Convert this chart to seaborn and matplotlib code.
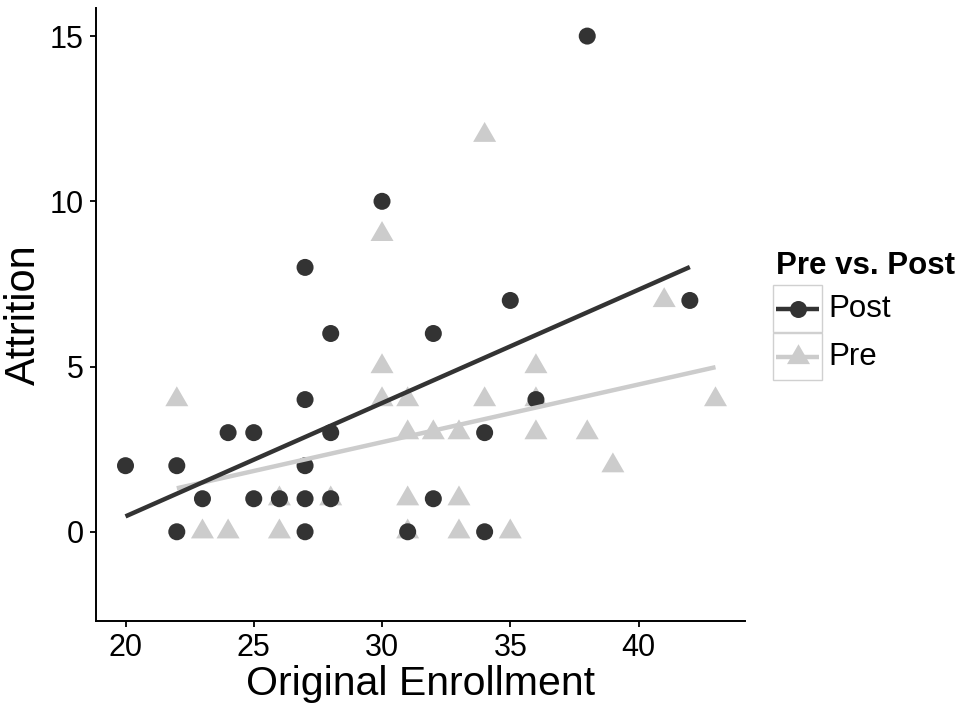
import numpy as np
import pandas as pd
import matplotlib
matplotlib.use('Agg')
import matplotlib.pyplot as plt
from matplotlib.markers import MarkerStyle
from matplotlib.lines import Line2D
from matplotlib.patches import Rectangle
import seaborn as sns

# data
post_enroll = [20, 22, 22, 23, 24, 25, 25, 26, 27, 27, 27, 27, 27, 28, 28, 28,
               30, 31, 32, 32, 34, 34, 35, 36, 38, 42]
post_attr = [2, 2, 0, 1, 3, 3, 1, 1, 8, 4, 2, 1, 0, 6, 3, 1,
             10, 0, 6, 1, 3, 0, 7, 4, 15, 7]
pre_enroll = [22, 23, 24, 26, 26, 28, 30, 30, 30, 31, 31, 31, 31, 32, 33, 33,
              33, 34, 34, 35, 36, 36, 36, 38, 39, 41, 43]
pre_attr = [4, 0, 0, 0, 1, 1, 9, 5, 4, 4, 3, 1, 0, 3, 3, 1,
            0, 12, 4, 0, 5, 4, 3, 3, 2, 7, 4]
groups = ['Post', 'Pre']
colors = {'Post': '#333333', 'Pre': '#cccccc'}
x_ticks = [20, 25, 30, 35, 40]
y_ticks = [0, 5, 10, 15]

df = pd.concat([
    pd.DataFrame({'Enroll': post_enroll, 'Attrition': post_attr, 'Period': 'Post'}),
    pd.DataFrame({'Enroll': pre_enroll, 'Attrition': pre_attr, 'Period': 'Pre'}),
], ignore_index=True)

sns.set_theme(style='ticks')
plt.rcParams['font.family'] = ['Liberation Sans', 'DejaVu Sans']
plt.rcParams['text.color'] = 'black'
plt.rcParams['axes.labelcolor'] = 'black'

# equilateral triangle like ggplot shape 17
tri = MarkerStyle([(-1, -0.577), (1, -0.577), (0, 1.155)])
markers = {'Post': 'o', 'Pre': tri}
sizes = {'Post': 150, 'Pre': 366}

fig = plt.figure(figsize=(9.66, 7.06), dpi=100)
ax = fig.add_axes([96 / 966, 1 - 621 / 706, (745 - 96) / 966, (621 - 8) / 706])

# Pre first so Post circles sit on top
for g in ['Pre', 'Post']:
    sub = df[df.Period == g]
    sns.scatterplot(x='Enroll', y='Attrition', data=sub, ax=ax, color=colors[g],
                    marker=markers[g], s=sizes[g], edgecolor='none', linewidth=0,
                    legend=False, zorder=2)
for g in ['Pre', 'Post']:
    sub = df[df.Period == g]
    sns.regplot(x='Enroll', y='Attrition', data=sub, ax=ax, scatter=False, ci=None,
                color=colors[g], line_kws={'linewidth': 3.2, 'zorder': 3,
                                           'solid_capstyle': 'butt'})

ax.set_xlim(18.85, 44.15)
ax.set_ylim(-2.7, 15.85)
ax.set_xticks(x_ticks)
ax.set_yticks(y_ticks)
ax.tick_params(axis='both', labelsize=22, length=4, width=1.3, pad=5,
               colors='black', labelcolor='black')
for side in ['top', 'right']:
    ax.spines[side].set_visible(False)
for side in ['left', 'bottom']:
    ax.spines[side].set_linewidth(1.4)
    ax.spines[side].set_color('black')
ax.set_xlabel('Original Enrollment', fontsize=29.5, labelpad=1, color='black')
ax.set_ylabel('Attrition', fontsize=30, labelpad=4, color='black')

# ggplot-like legend built by hand
W, H = 966, 706
fig.text(776 / W, 1 - 266 / H, 'Pre vs. Post', fontsize=22.5, fontweight='bold',
         va='center', ha='left', color='black')
for i, g in enumerate(groups):
    top = 285 + i * 48
    fig.add_artist(Rectangle((773 / W, 1 - (top + 47) / H), 49 / W, 47 / H,
                             transform=fig.transFigure, facecolor='white',
                             edgecolor='#d0d0d0', linewidth=1.0))
    cy = 1 - (top + 24) / H
    fig.add_artist(Line2D([776 / W, 819 / W], [cy, cy], transform=fig.transFigure,
                          color=colors[g], linewidth=3.2, solid_capstyle='butt'))
    fig.add_artist(Line2D([797.5 / W], [cy], transform=fig.transFigure, linestyle='none',
                          marker=markers[g], markersize=np.sqrt(sizes[g]),
                          markerfacecolor=colors[g], markeredgewidth=0))
    fig.text(828 / W, cy, g, fontsize=22.5, va='center', ha='left', color='black')

fig.savefig('out.png', dpi=100)
